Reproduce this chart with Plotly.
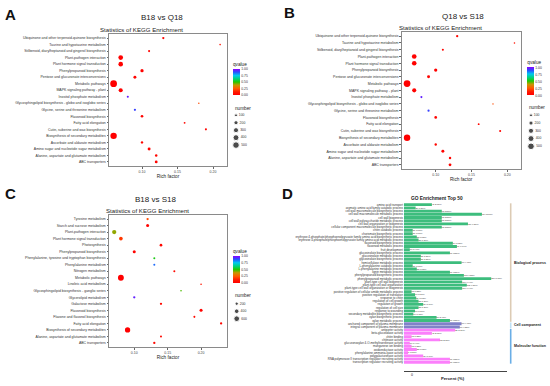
import plotly.graph_objects as go

W, H = 550, 386
FONT = "Liberation Sans"

# ---------------- KEGG data: panel A (B18 vs Q18) ----------------
kegg_ab_terms = [
    "Ubiquinone and other terpenoid-quinone biosynthesis",
    "Taurine and hypotaurine metabolism",
    "Stilbenoid, diarylheptanoid and gingerol biosynthesis",
    "Plant-pathogen interaction",
    "Plant hormone signal transduction",
    "Phenylpropanoid biosynthesis",
    "Pentose and glucuronate interconversions",
    "Metabolic pathways",
    "MAPK signaling pathway - plant",
    "Inositol phosphate metabolism",
    "Glycosphingolipid biosynthesis - globo and isoglobo series",
    "Glycine, serine and threonine metabolism",
    "Flavonoid biosynthesis",
    "Fatty acid elongation",
    "Cutin, suberine and wax biosynthesis",
    "Biosynthesis of secondary metabolites",
    "Ascorbate and aldarate metabolism",
    "Amino sugar and nucleotide sugar metabolism",
    "Alanine, aspartate and glutamate metabolism",
    "ABC transporters",
]
kegg_a_rich = [0.13, 0.21, 0.11, 0.07, 0.07, 0.10, 0.09, 0.06, 0.07, 0.08,
               0.18, 0.09, 0.10, 0.16, 0.19, 0.06, 0.10, 0.11, 0.12, 0.12]
kegg_a_q = [0.03, 0.08, 0.02, 0.01, 0.01, 0.01, 0.02, 0.0, 0.01, 0.95,
            0.22, 0.90, 0.02, 0.03, 0.02, 0.0, 0.03, 0.02, 0.03, 0.02]
kegg_a_num = [60, 30, 50, 250, 240, 120, 100, 520, 190, 50,
              25, 55, 80, 40, 50, 470, 65, 100, 70, 90]

# ---------------- panel B (Q18 vs S18) ----------------
kegg_b_rich = [0.13, 0.21, 0.11, 0.07, 0.07, 0.10, 0.09, 0.06, 0.07, 0.08,
               0.18, 0.09, 0.10, 0.16, 0.19, 0.06, 0.10, 0.11, 0.12, 0.12]
kegg_b_q = [0.03, 0.08, 0.02, 0.01, 0.01, 0.01, 0.02, 0.0, 0.01, 0.95,
            0.22, 0.90, 0.02, 0.03, 0.02, 0.0, 0.03, 0.02, 0.03, 0.02]
kegg_b_num = [60, 30, 50, 250, 240, 120, 100, 520, 190, 50,
              25, 55, 80, 40, 50, 470, 65, 100, 70, 90]

# ---------------- panel C (B18 vs S18) ----------------
kegg_c_terms = [
    "Tyrosine metabolism",
    "Starch and sucrose metabolism",
    "Plant-pathogen interaction",
    "Plant hormone signal transduction",
    "Photosynthesis",
    "Phenylpropanoid biosynthesis",
    "Phenylalanine, tyrosine and tryptophan biosynthesis",
    "Phenylalanine metabolism",
    "Nitrogen metabolism",
    "Metabolic pathways",
    "Linoleic acid metabolism",
    "Glycosphingolipid biosynthesis - ganglio series",
    "Glycerolipid metabolism",
    "Galactose metabolism",
    "Flavonoid biosynthesis",
    "Flavone and flavonol biosynthesis",
    "Fatty acid elongation",
    "Biosynthesis of secondary metabolites",
    "Alanine, aspartate and glutamate metabolism",
    "ABC transporters",
]
kegg_c_rich = [0.12, 0.12, 0.07, 0.08, 0.14, 0.10, 0.13, 0.13, 0.16, 0.08,
               0.20, 0.17, 0.10, 0.14, 0.20, 0.19, 0.23, 0.09, 0.14, 0.13]
kegg_c_q = [0.22, 0.02, 0.42, 0.18, 0.03, 0.02, 0.52, 0.85, 0.04, 0.0,
            0.10, 0.47, 0.95, 0.04, 0.02, 0.05, 0.03, 0.0, 0.04, 0.04]
kegg_c_num = [100, 170, 340, 250, 130, 170, 75, 75, 75, 640,
              50, 50, 100, 100, 170, 75, 100, 520, 75, 100]

size_legend_ab = [100, 200, 300, 400, 500]
size_legend_c = [200, 400, 600]
q_ticks = [0, 0.25, 0.5, 0.75, 1.0]
rich_ticks = [0.10, 0.15, 0.20]

# ---------------- panel D (GO enrichment top 50) ----------------
go_bp_terms = [
    "amino acid transport",
    "aromatic amino acid family catabolic process",
    "cell wall macromolecule biosynthetic process",
    "cell wall macromolecule metabolic process",
    "cell wall biogenesis",
    "cell wall polysaccharide metabolic process",
    "cell wall organization or biogenesis",
    "cellular component macromolecule biosynthetic process",
    "chitin catabolic process",
    "chorismate biosynthetic process",
    "erythrose 4-phosphate/phosphoenolpyruvate family amino acid biosynthetic process",
    "erythrose 4-phosphate/phosphoenolpyruvate family amino acid metabolic process",
    "flavonoid biosynthetic process",
    "flavonoid metabolic process",
    "fruit development",
    "glucosinolate biosynthetic process",
    "glucosinolate metabolic process",
    "glycosinolate biosynthetic process",
    "hemicellulose metabolic process",
    "L-phenylalanine catabolic process",
    "L-phenylalanine metabolic process",
    "lignin metabolic process",
    "phenylpropanoid biosynthetic process",
    "phenylpropanoid metabolic process",
    "plant-type cell wall biogenesis",
    "plant-type cell wall organization",
    "plant-type cell wall organization or biogenesis",
    "positive regulation of cellular amide metabolic process",
    "positive regulation of translation",
    "response to chitin",
    "regulation of cell growth",
    "regulation of growth",
    "regulation of cell size",
    "response to wounding",
    "secondary metabolite biosynthetic process",
    "xylan biosynthetic process",
    "xylan metabolic process",
]
go_bp_counts = [48, 20, 65, 134, 65, 65, 110, 65, 15, 15, 22, 25, 84, 91, 10,
                79, 29, 29, 99, 15, 22, 79, 103, 150, 100, 108, 100,
                13, 19, 21, 25, 33, 25, 19, 16, 56, 79]
go_cc_terms = [
    "anchored component of plasma membrane",
    "integral component of plasma membrane",
]
go_cc_counts = [99, 96]
go_mf_terms = [
    "antiporter activity",
    "beta-glucosidase activity",
    "chitin binding",
    "chitinase activity",
    "glucuronoxylan 4-O-methyltransferase activity",
    "manganese ion binding",
    "oxidoreductase activity",
    "phenylalanine ammonia-lyase activity",
    "polygalacturonase activity",
    "RNA polymerase II transcription regulator recruiting activity",
    "transcription regulator recruiting activity",
]
go_mf_counts = [88, 48, 13, 62, 10, 13, 22, 7, 33, 79, 79]
go_total_genes = 2250
go_groups = ["Biological process", "Cell component", "Molecular function"]
go_colors = ["#3dbd7d", "#8181c9", "#fb7ffb"]
go_line_colors = ["#dccbb4", "#bfe0f4", "#6aaee6"]

colorscale = [[0, "#FF0000"], [0.12, "#FF1A00"], [0.25, "#FF5A00"], [0.38, "#C89600"],
              [0.5, "#22C800"], [0.62, "#00D27A"], [0.75, "#00C8F0"], [0.88, "#2850FF"],
              [1, "#8C00FF"]]


def fx(px):
    return px / W


def fy(px):
    return 1 - px / H


fig = go.Figure()
annotations = []
shapes = []
layout = {}


def kegg_panel(idx, terms, rich, q, num, xdom, ydom, xrange, sizeref, cax,
               cb_x, cb_top, cb_bot, legend_vals, leg_ax, leg_x, leg_top, leg_step,
               title, title_xy, sub_xy, letter, letter_xy, num_xy):
    sfx = "" if idx == 1 else str(idx)
    fig.add_trace(go.Scatter(
        x=rich, y=terms, mode="markers",
        marker=dict(size=num, sizemode="area", sizeref=sizeref, color=q,
                    coloraxis=cax, line=dict(width=0), opacity=1),
        xaxis="x" + sfx, yaxis="y" + sfx, hoverinfo="skip"))
    n = len(terms)
    layout["xaxis" + sfx] = dict(
        domain=[fx(xdom[0]), fx(xdom[1])], range=xrange, anchor="y" + sfx,
        tickvals=rich_ticks, ticktext=["%.2f" % v for v in rich_ticks],
        tickfont=dict(size=3.5, color="#444", family=FONT), ticks="outside",
        ticklen=1.5, tickcolor="#666", showline=True, mirror=True, linecolor="#8a8a8a",
        linewidth=1, showgrid=False, zeroline=False,
        title=dict(text="Rich factor", font=dict(size=4.7, color="#222", family=FONT),
                   standoff=1))
    layout["yaxis" + sfx] = dict(
        domain=[fy(ydom[1]), fy(ydom[0])], type="category", categoryarray=terms,
        range=[n - 1 + 0.62, -0.62], anchor="x" + sfx,
        tickfont=dict(size=3.5, color="#333", family=FONT), ticks="outside",
        ticklen=1.5, tickcolor="#666", showline=True, mirror=True, linecolor="#8a8a8a",
        linewidth=1, showgrid=False, zeroline=False)
    layout[cax] = dict(
        cmin=0, cmax=1, colorscale=colorscale,
        colorbar=dict(x=fx(cb_x), xanchor="left", y=fy((cb_top + cb_bot) / 2),
                      yanchor="middle", len=cb_bot - cb_top, lenmode="pixels",
                      thickness=6.5, xpad=0, ypad=0, outlinewidth=0,
                      tickvals=q_ticks, ticktext=["%.2f" % v for v in q_ticks],
                      tickfont=dict(size=3.4, color="#333", family=FONT), ticks="",
                      title=dict(text="qvalue", side="top",
                                 font=dict(size=4.7, color="#222", family=FONT))))
    # size legend
    lsfx = str(leg_ax)
    nl = len(legend_vals)
    fig.add_trace(go.Scatter(
        x=[0] * nl, y=[str(v) for v in legend_vals], mode="markers+text",
        text=[str(v) for v in legend_vals], textposition="middle right",
        textfont=dict(size=3.4, color="#333", family=FONT),
        marker=dict(size=legend_vals, sizemode="area", sizeref=sizeref, color="black"),
        xaxis="x" + lsfx, yaxis="y" + lsfx, hoverinfo="skip", cliponaxis=False))
    layout["xaxis" + lsfx] = dict(domain=[fx(leg_x - 4), fx(leg_x + 16)], range=[-1, 4],
                                  visible=False, anchor="y" + lsfx, fixedrange=True)
    top = leg_top - leg_step / 2
    layout["yaxis" + lsfx] = dict(domain=[fy(top + leg_step * nl), fy(top)],
                                  type="category",
                                  categoryarray=[str(v) for v in legend_vals],
                                  range=[nl - 0.5, -0.5], visible=False,
                                  anchor="x" + lsfx, fixedrange=True)
    annotations.append(dict(text="number", x=fx(num_xy[0]), y=fy(num_xy[1]),
                            xref="paper", yref="paper", xanchor="left", yanchor="middle",
                            showarrow=False, font=dict(size=4.7, color="#222", family=FONT)))
    annotations.append(dict(text=title, x=fx(title_xy[0]), y=fy(title_xy[1]),
                            xref="paper", yref="paper", xanchor="center", yanchor="middle",
                            showarrow=False, font=dict(size=8, color="#222", family=FONT)))
    annotations.append(dict(text="Statistics of KEGG Enrichment", x=fx(sub_xy[0]),
                            y=fy(sub_xy[1]), xref="paper", yref="paper",
                            xanchor="center", yanchor="middle", showarrow=False,
                            font=dict(size=6.1, color="#222", family=FONT)))
    annotations.append(dict(text="<b>%s</b>" % letter, x=fx(letter_xy[0]), y=fy(letter_xy[1]),
                            xref="paper", yref="paper", xanchor="center", yanchor="middle",
                            showarrow=False, font=dict(size=15, color="#111", family=FONT)))


kegg_panel(1, kegg_ab_terms, kegg_a_rich, kegg_a_q, kegg_a_num,
           (109, 227), (34, 166), [0.0535, 0.2197], 22.9, "coloraxis",
           233, 59, 95, size_legend_ab, 5, 236, 115.3, 7.45,
           "B18 vs Q18", (162, 17), (141, 29), "A", (10, 14.5), (232.5, 108))
kegg_panel(2, kegg_ab_terms, kegg_b_rich, kegg_b_q, kegg_b_num,
           (401.7, 520.7), (32, 169), [0.0525, 0.2187], 22.9, "coloraxis2",
           527.3, 57.5, 95.5, size_legend_ab, 6, 531, 115.3, 7.75,
           "Q18 vs S18", (463, 16), (440, 27), "B", (289, 12.5), (527.3, 107.5))
kegg_panel(3, kegg_c_terms, kegg_c_rich, kegg_c_q, kegg_c_num,
           (109, 227), (215, 347), [0.0622, 0.2388], 37.0, "coloraxis3",
           233, 246, 283, size_legend_c, 7, 236.7, 303.7, 7.5,
           "B18 vs S18", (155, 200), (147, 210), "C", (10, 193), (232.5, 295.7))

# ---------------- panel D ----------------
all_terms = go_bp_terms + go_cc_terms + go_mf_terms
group_terms = [go_bp_terms, go_cc_terms, go_mf_terms]
group_counts = [go_bp_counts, go_cc_counts, go_mf_counts]
for terms, counts, col in zip(group_terms, group_counts, go_colors):
    pct = [c / go_total_genes * 100 for c in counts]
    fig.add_trace(go.Bar(
        x=pct, y=terms, orientation="h", marker=dict(color=col, line=dict(width=0)),
        text=["%d (%.2f%%)" % (c, p) for c, p in zip(counts, pct)],
        textposition="outside", textfont=dict(size=2.8, color="#222", family=FONT),
        cliponaxis=False, xaxis="x4", yaxis="y4", hoverinfo="skip"))

nD = len(all_terms)
layout["xaxis4"] = dict(domain=[fx(404), fx(506.7)], range=[0, 7.85], anchor="free",
                        position=fy(371), tickvals=[0], ticktext=["0"], ticks="inside",
                        ticklen=3, tickcolor="#333", tickwidth=1, ticklabelshift=8,
                        tickfont=dict(size=3.5, color="#222", family=FONT),
                        showline=True, linecolor="#444", linewidth=1, showgrid=False,
                        zeroline=False)
layout["yaxis4"] = dict(domain=[fy(364), fy(203)], type="category", categoryarray=all_terms,
                        range=[nD - 0.5, -0.5], anchor="x4",
                        tickfont=dict(size=2.9, color="#333", family=FONT), ticks="",
                        showline=False, showgrid=False, zeroline=False)
layout["bargap"] = 0.12

start = 0
for g, terms, lc in zip(go_groups, group_terms, go_line_colors):
    end = start + len(terms)
    shapes.append(dict(type="line", xref="paper", yref="y4", x0=fx(510.7), x1=fx(510.7),
                       y0=start - 0.4, y1=end - 0.6, line=dict(color=lc, width=1.6)))
    annotations.append(dict(text="<b>%s</b>" % g, x=fx(512), y=(start + end - 1) / 2,
                            xref="paper", yref="y4", xanchor="left", yanchor="middle",
                            showarrow=False, font=dict(size=3.6, color="#222", family=FONT)))
    start = end

annotations.append(dict(text="<b>Percent (%)</b>", x=fx(452.7), y=fy(378.5),
                        xref="paper", yref="paper", xanchor="center", yanchor="middle",
                        showarrow=False, font=dict(size=4.2, color="#222", family=FONT)))
annotations.append(dict(text="<b>GO Enrichment Top 50</b>", x=fx(437), y=fy(198),
                        xref="paper", yref="paper", xanchor="center", yanchor="middle",
                        showarrow=False, font=dict(size=4.8, color="#222", family=FONT)))
annotations.append(dict(text="<b>D</b>", x=fx(287), y=fy(193), xref="paper", yref="paper",
                        xanchor="center", yanchor="middle", showarrow=False,
                        font=dict(size=15, color="#111", family=FONT)))

fig.update_layout(width=W, height=H, margin=dict(l=0, r=0, t=0, b=0),
                  paper_bgcolor="white", plot_bgcolor="white", showlegend=False,
                  font=dict(family=FONT), annotations=annotations, shapes=shapes,
                  **layout)
fig.write_html("out.html", config={"displayModeBar": False},
               post_script="document.body.style.margin='0px';")
